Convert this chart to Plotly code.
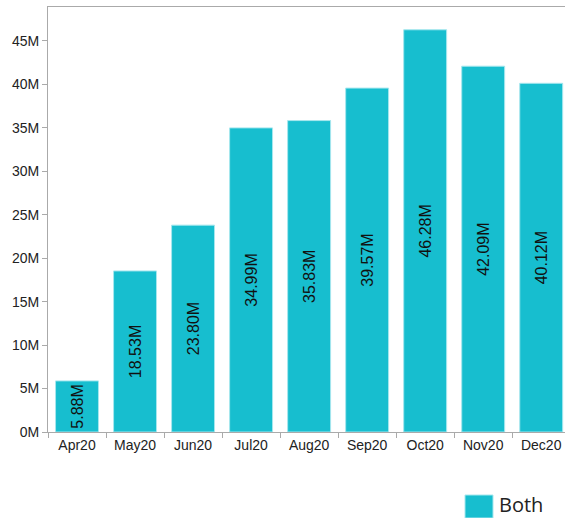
import plotly.graph_objects as go

months = ["Apr20", "May20", "Jun20", "Jul20", "Aug20", "Sep20", "Oct20", "Nov20", "Dec20"]
values_m = [5.88, 18.53, 23.80, 34.99, 35.83, 39.57, 46.28, 42.09, 40.12]
ytick_vals_m = [0, 5, 10, 15, 20, 25, 30, 35, 40, 45]
ytick_text = [f"{v}M" for v in ytick_vals_m]
series_name = "Both"
bar_color = "#17BECF"

fig = go.Figure()
fig.add_trace(go.Bar(
    x=months,
    y=values_m,
    name=series_name,
    marker=dict(color=bar_color, line=dict(color="#a6e7ee", width=1)),
    text=[f"{v:.2f}M" for v in values_m],
    textposition="inside",
    insidetextanchor="middle",
    textangle=-90,
    textfont=dict(family="Liberation Sans, Arial", size=16, color="#111111"),
    constraintext="none",
    showlegend=False,
    hoverinfo="skip",
))

fig.update_layout(
    width=565, height=518,
    margin=dict(l=48, r=0, t=7, b=86),
    plot_bgcolor="white", paper_bgcolor="white",
    bargap=0.26,
    font=dict(family="Liberation Sans, Arial", size=14, color="#222222"),
    xaxis=dict(
        range=[-0.5, 8.41],
        showline=True, linecolor="#aaaaaa", linewidth=1, mirror=True,
        ticks="outside", ticklen=5, tickcolor="#aaaaaa",
        tickson="boundaries", showgrid=False,
        tickfont=dict(size=14, color="#222222"),
    ),
    yaxis=dict(
        range=[0, 48.9],
        showline=True, linecolor="#aaaaaa", linewidth=1,
        ticks="outside", ticklen=5, tickcolor="#aaaaaa",
        tickvals=ytick_vals_m, ticktext=ytick_text,
        showgrid=False, zeroline=False,
        tickfont=dict(size=14, color="#222222"),
    ),
    shapes=[dict(type="rect", xref="paper", yref="paper",
                 x0=(465 - 48) / 517, x1=(493 - 48) / 517,
                 y0=-(495 - 432) / 425, y1=-(518 - 432) / 425,
                 fillcolor=bar_color, line=dict(color="#a6e7ee", width=1))],
    annotations=[dict(text=series_name, xref="paper", yref="paper",
                      x=(497 - 48) / 517, y=-(504 - 432) / 425,
                      xanchor="left", yanchor="middle", showarrow=False,
                      font=dict(family="Open Sans, Noto Sans", size=20, color="#222222"))],
)

fig.write_html("out.html")
